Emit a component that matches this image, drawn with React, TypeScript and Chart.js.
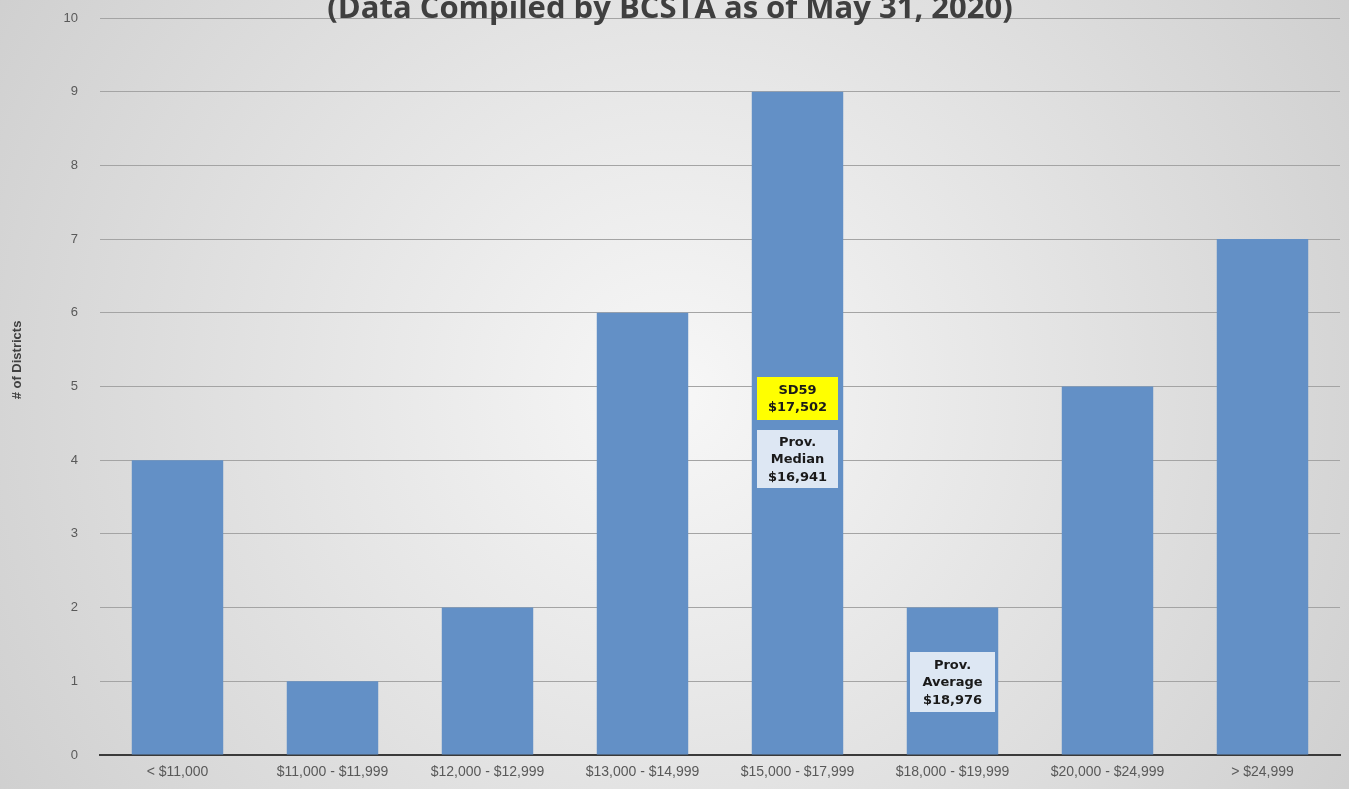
import React, { useEffect, useRef } from "react";
import { Chart, registerables } from "chart.js";

Chart.register(...registerables);

const categories = [
  "< $11,000",
  "$11,000 - $11,999",
  "$12,000 - $12,999",
  "$13,000 - $14,999",
  "$15,000 - $17,999",
  "$18,000 - $19,999",
  "$20,000 - $24,999",
  "> $24,999",
];
const districtCounts = [4, 1, 2, 6, 9, 2, 5, 7];
const titleText = "(Data Compiled by BCSTA as of May 31, 2020)";
const yAxisTitle = "# of Districts";

const annotations = [
  { lines: ["SD59", "$17,502"], cat: 4, y: 4.84, w: 81, h: 43, fill: "#ffff00" },
  { lines: ["Prov.", "Median", "$16,941"], cat: 4, y: 4.02, w: 81, h: 58, fill: "#dde7f3" },
  { lines: ["Prov.", "Average", "$18,976"], cat: 5, y: 0.99, w: 85, h: 60, fill: "#dde7f3" },
];

const bgPlugin = {
  id: "bg",
  beforeDraw(chart: any) {
    const { ctx, width, height } = chart;
    ctx.save();
    const g = ctx.createRadialGradient(width / 2, height / 2, 0, width / 2, height / 2, width * 0.62);
    g.addColorStop(0, "#f7f7f7");
    g.addColorStop(1, "#cdcdcd");
    ctx.fillStyle = g;
    ctx.fillRect(0, 0, width, height);
    ctx.restore();
  },
};

const overlayPlugin = {
  id: "overlay",
  afterDraw(chart: any) {
    const { ctx } = chart;
    const xs = chart.scales.x;
    const ys = chart.scales.y;
    ctx.save();
    // title
    ctx.font = "bold 31px 'Open Sans', 'Liberation Sans', sans-serif";
    ctx.fillStyle = "#3f3f3f";
    ctx.textAlign = "center";
    ctx.textBaseline = "middle";
    ctx.fillText(titleText, 670, 9);
    // y axis title
    ctx.save();
    ctx.translate(17, 360);
    ctx.rotate(-Math.PI / 2);
    ctx.font = "bold 13px 'Liberation Sans', sans-serif";
    ctx.fillStyle = "#404040";
    ctx.fillText(yAxisTitle, 0, 0);
    ctx.restore();
    // annotations
    annotations.forEach((a) => {
      const cx = xs.getPixelForValue(a.cat);
      const cy = ys.getPixelForValue(a.y);
      ctx.fillStyle = a.fill;
      ctx.fillRect(Math.round(cx - a.w / 2), Math.round(cy - a.h / 2), a.w, a.h);
      ctx.fillStyle = "#1a1a1a";
      ctx.font = "bold 13px 'DejaVu Sans', sans-serif";
      const lh = 17.5;
      const start = cy - ((a.lines.length - 1) * lh) / 2;
      a.lines.forEach((l, i) => ctx.fillText(l, cx, start + i * lh + 1));
    });
    ctx.restore();
  },
};

export default function App() {
  const ref = useRef<HTMLCanvasElement | null>(null);
  useEffect(() => {
    document.body.style.margin = "0";
    const chart = new Chart(ref.current!, {
      type: "bar",
      data: {
        labels: categories,
        datasets: [
          {
            data: districtCounts,
            backgroundColor: "rgb(99,144,198)",
            borderWidth: 0,
            categoryPercentage: 1,
            barPercentage: 0.59,
          },
        ],
      },
      options: {
        responsive: false,
        animation: false,
        layout: { padding: { top: 18, right: 9, bottom: 0, left: 0 } },
        plugins: { legend: { display: false }, tooltip: { enabled: false }, title: { display: false } },
        scales: {
          x: {
            grid: { display: false, drawTicks: false },
            border: { display: true, color: "#3a3a3a", width: 2 },
            ticks: {
              color: "#595959",
              font: { family: "'Liberation Sans', sans-serif", size: 14 },
              padding: 9,
              maxRotation: 0,
              autoSkip: false,
            },
            afterFit: (s: any) => {
              s.height = 34;
              s.paddingLeft = 0;
              s.paddingRight = 0;
            },
          },
          y: {
            min: 0,
            max: 10,
            ticks: {
              stepSize: 1,
              color: "#595959",
              font: { family: "'Liberation Sans', sans-serif", size: 13 },
              padding: 22,
            },
            grid: { color: "#a4a4a4", drawTicks: false, lineWidth: 1 },
            border: { display: false },
            title: { display: false },
            afterFit: (s: any) => {
              s.width = 100;
              s.paddingTop = 0;
              s.paddingBottom = 0;
            },
          },
        },
      },
      plugins: [bgPlugin, overlayPlugin],
    });
    return () => chart.destroy();
  }, []);
  return <canvas ref={ref} width={1349} height={789} style={{ display: "block" }} />;
}
